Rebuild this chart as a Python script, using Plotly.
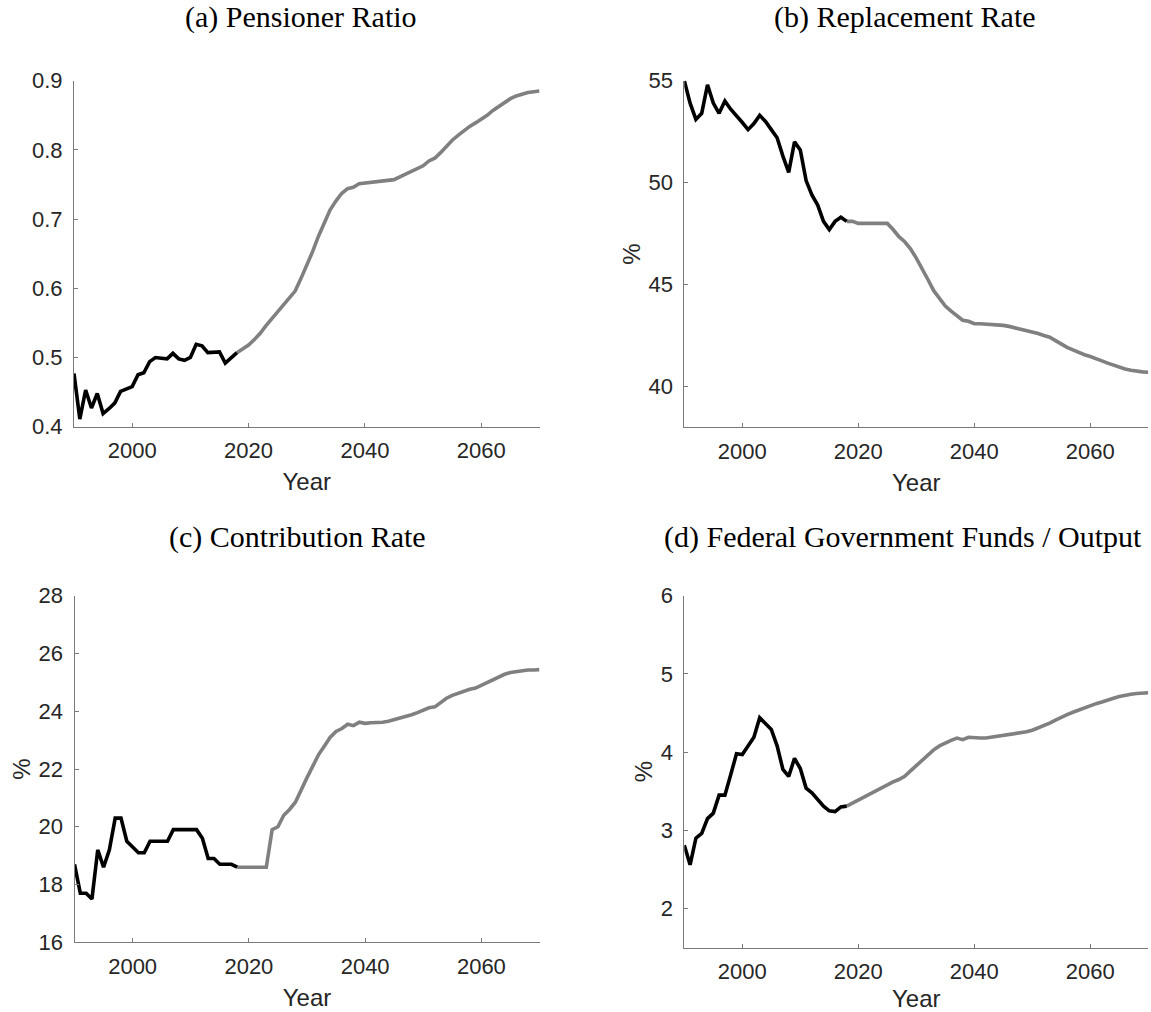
import plotly.graph_objects as go

W, H = 1151, 1012

# ---------------- data ----------------
hist_years = list(range(1990, 2019))   # 1990..2018 (black, historical)
proj_years = list(range(2018, 2071))   # 2018..2070 (gray, projection)

pens_hist = [0.477, 0.411, 0.453, 0.427, 0.448, 0.419, 0.426, 0.434, 0.451, 0.455,
             0.458, 0.475, 0.478, 0.494, 0.500, 0.499, 0.498, 0.506, 0.498, 0.496,
             0.500, 0.519, 0.517, 0.507, 0.508, 0.508, 0.492, 0.500, 0.507]
pens_proj = [0.507, 0.513, 0.518, 0.526, 0.535, 0.546, 0.556, 0.566, 0.576, 0.586,
             0.596, 0.614, 0.633, 0.653, 0.675, 0.695, 0.713, 0.726, 0.737, 0.744,
             0.746, 0.751, 0.752, 0.752, 0.753, 0.754, 0.755, 0.757, 0.761, 0.765,
             0.768, 0.772, 0.777, 0.784, 0.788, 0.796, 0.805, 0.814, 0.821, 0.828,
             0.834, 0.839, 0.844, 0.850, 0.857, 0.863, 0.869, 0.874, 0.878, 0.881,
             0.883, 0.884, 0.885]

repl_hist = [55.0, 53.9, 53.1, 53.4, 54.8, 53.9, 53.4, 54.0, 53.6, 53.3,
             52.95, 52.6, 52.9, 53.3, 53.0, 52.6, 52.2, 51.3, 50.5, 52.0,
             51.6, 50.1, 49.4, 48.9, 48.1, 47.7, 48.1, 48.3, 48.1]
repl_proj = [48.1, 48.1, 48.0, 48.0, 48.0, 48.0, 48.0, 48.0, 47.7, 47.35,
             47.1, 46.75, 46.3, 45.8, 45.25, 44.7, 44.3, 43.95, 43.7, 43.45,
             43.25, 43.2, 43.08, 43.08, 43.07, 43.06, 43.04, 43.0, 42.95, 42.88,
             42.82, 42.76, 42.7, 42.6, 42.5, 42.42, 42.25, 42.07, 41.92, 41.8,
             41.66, 41.56, 41.47, 41.38, 41.26, 41.15, 41.05, 40.94, 40.86, 40.8,
             40.75, 40.72, 40.7]

contr_hist = [18.7, 17.7, 17.7, 17.5, 19.2, 18.6, 19.2, 20.3, 20.3, 19.5,
              19.3, 19.1, 19.1, 19.5, 19.5, 19.5, 19.5, 19.9, 19.9, 19.9,
              19.9, 19.9, 19.6, 18.9, 18.9, 18.7, 18.7, 18.7, 18.6]
contr_proj = [18.6, 18.6, 18.6, 18.6, 18.6, 18.6, 19.9, 20.0, 20.4, 20.6,
              20.85, 21.3, 21.7, 22.1, 22.5, 22.8, 23.1, 23.3, 23.4, 23.55,
              23.5, 23.62, 23.58, 23.6, 23.6, 23.62, 23.65, 23.7, 23.76, 23.82,
              23.88, 23.95, 24.05, 24.12, 24.15, 24.3, 24.45, 24.55, 24.62, 24.7,
              24.76, 24.8, 24.9, 25.0, 25.1, 25.18, 25.28, 25.34, 25.38, 25.41,
              25.43, 25.43, 25.44]

fed_hist = [2.81, 2.56, 2.90, 2.96, 3.15, 3.22, 3.45, 3.45, 3.71, 3.98,
            3.97, 4.08, 4.19, 4.44, 4.36, 4.29, 4.08, 3.78, 3.69, 3.92,
            3.79, 3.54, 3.48, 3.39, 3.31, 3.25, 3.24, 3.30, 3.31]
fed_proj = [3.31, 3.35, 3.39, 3.43, 3.47, 3.51, 3.55, 3.59, 3.62, 3.65,
            3.69, 3.76, 3.83, 3.90, 3.97, 4.03, 4.08, 4.12, 4.15, 4.18,
            4.16, 4.19, 4.18, 4.18, 4.18, 4.19, 4.20, 4.21, 4.22, 4.23,
            4.24, 4.26, 4.28, 4.31, 4.33, 4.37, 4.41, 4.45, 4.48, 4.51,
            4.54, 4.56, 4.59, 4.62, 4.64, 4.67, 4.69, 4.71, 4.73, 4.74,
            4.75, 4.75, 4.76]

titles = ["(a) Pensioner Ratio", "(b) Replacement Rate",
          "(c) Contribution Rate", "(d) Federal Government Funds / Output"]
x_tick_vals = [2000, 2020, 2040, 2060]
x_tick_text = ["2000", "2020", "2040", "2060"]
x_label = "Year"
y_labels = ["", "%", "%", "%"]
y_ranges = [[0.4, 0.9], [38, 55], [16, 28], [1.5, 6]]
y_ticks = [[0.4, 0.5, 0.6, 0.7, 0.8, 0.9], [40, 45, 50, 55],
           [16, 18, 20, 22, 24, 26, 28], [2, 3, 4, 5, 6]]
y_tick_text = [["0.4", "0.5", "0.6", "0.7", "0.8", "0.9"], ["40", "45", "50", "55"],
               ["16", "18", "20", "22", "24", "26", "28"], ["2", "3", "4", "5", "6"]]

hist_series = [pens_hist, repl_hist, contr_hist, fed_hist]
proj_series = [pens_proj, repl_proj, contr_proj, fed_proj]

# ---------------- layout geometry (pixels) ----------------
# (left, right, top, bottom) of each plot area
boxes = [(74, 539.5, 80.7, 426.7),
         (684.3, 1148.3, 80.7, 427.3),
         (74.5, 539.5, 595.7, 942.3),
         (684.3, 1148.3, 595.7, 947.7)]
title_pos = [(301, 17), (905, 17), (297, 537), (903, 537)]

def px(x):
    return x / W

def py(y):
    return 1 - y / H

SANS = "Liberation Sans, Arial, sans-serif"
TICK_FONT = dict(family=SANS, size=22, color="#262626")
LABEL_FONT = dict(family=SANS, size=24, color="#262626")
AXIS_COLOR = "#7a7a7a"
BLACK = "#000000"
GRAY = "#808080"
LW = 3.6

fig = go.Figure()
layout = {}
annotations = []

for i in range(4):
    n = "" if i == 0 else str(i + 1)
    xa, ya = "x" + n, "y" + n
    fig.add_trace(go.Scatter(x=proj_years, y=proj_series[i], mode="lines",
                             line=dict(color=GRAY, width=LW), xaxis=xa, yaxis=ya,
                             showlegend=False, hoverinfo="x+y", cliponaxis=False))
    fig.add_trace(go.Scatter(x=hist_years, y=hist_series[i], mode="lines",
                             line=dict(color=BLACK, width=LW), xaxis=xa, yaxis=ya,
                             showlegend=False, hoverinfo="x+y", cliponaxis=False))
    l, r, t, b = boxes[i]
    layout["xaxis" + n] = dict(
        domain=[px(l), px(r)], anchor=ya, range=[1990, 2070], automargin=False,
        tickmode="array", tickvals=x_tick_vals, ticktext=x_tick_text,
        ticks="inside", ticklen=4, tickwidth=1, tickcolor=AXIS_COLOR,
        showline=True, linecolor=AXIS_COLOR, linewidth=1, mirror=False,
        showgrid=False, zeroline=False, tickfont=TICK_FONT, ticklabelstandoff=4,
        title=dict(text=x_label, font=LABEL_FONT, standoff=11),
    )
    layout["yaxis" + n] = dict(
        domain=[py(b), py(t)], anchor=xa, range=y_ranges[i], automargin=False,
        tickmode="array", tickvals=y_ticks[i], ticktext=y_tick_text[i],
        ticks="inside", ticklen=4, tickwidth=1, tickcolor=AXIS_COLOR,
        showline=True, linecolor=AXIS_COLOR, linewidth=1, mirror=False,
        showgrid=False, zeroline=False, tickfont=TICK_FONT, ticklabelstandoff=6,
        title=dict(text=y_labels[i], font=LABEL_FONT, standoff=1),
    )
    tx, ty = title_pos[i]
    annotations.append(dict(text=titles[i], x=px(tx), y=py(ty), xref="paper", yref="paper",
                            xanchor="center", yanchor="middle", showarrow=False,
                            font=dict(family="Liberation Serif, Times New Roman, serif",
                                      size=30, color="#000000")))

fig.update_layout(**layout)
fig.update_layout(
    width=W, height=H, autosize=False,
    margin=dict(l=0, r=0, t=0, b=0),
    paper_bgcolor="white", plot_bgcolor="white",
    annotations=annotations, showlegend=False,
)

fig.write_html("out.html", config={"displayModeBar": False},
               post_script="document.body.style.margin='0px';document.body.style.padding='0px';")
